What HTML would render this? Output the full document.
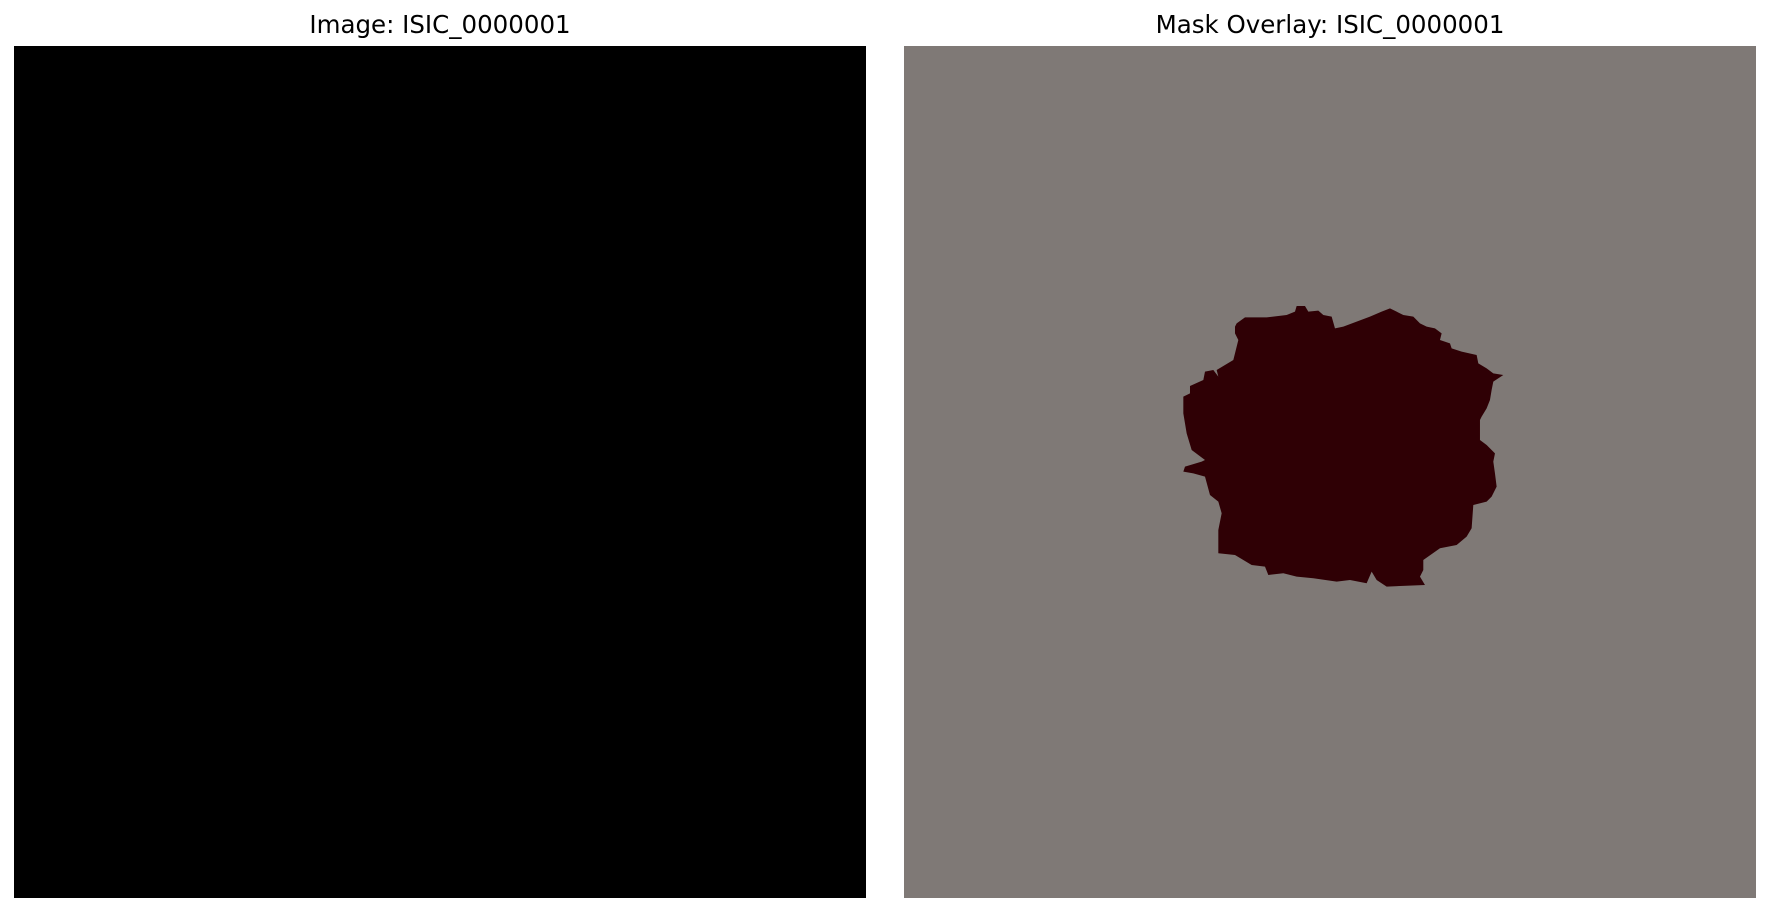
<!DOCTYPE html>
<html>
<head>
<meta charset="utf-8">
<style>
  html,body{margin:0;padding:0;background:#fff;}
  body{width:1769px;height:912px;position:relative;overflow:hidden;}
  svg{position:absolute;left:0;top:0;}
  text{font-family:"DejaVu Sans","Liberation Sans",sans-serif;font-size:24.5px;fill:#000;}
</style>
</head>
<body>
<svg width="1769" height="912" viewBox="0 0 1769 912">
  <text x="440" y="33" text-anchor="middle">Image: ISIC_0000001</text>
  <rect x="14" y="46" width="852" height="852" fill="#000000"/>
  <text x="1330" y="33" text-anchor="middle">Mask Overlay: ISIC_0000001</text>
  <rect x="904" y="46" width="852" height="852" fill="#7f7976"/>
  <g transform="translate(1150,280) scale(0.3333)">
    <polygon fill="#2f0005" points="255,140 260,130 285,112 350,112 410,105 435,95 440,78 465,78 475,95 505,92 520,105 545,110 555,145 580,140 620,125 660,110 695,95 720,85 740,95 760,105 790,110 810,130 830,140 855,145 875,160 870,180 900,190 905,205 935,215 980,225 985,250 1010,265 1030,280 1060,285 1030,305 1025,330 1020,360 1010,385 995,410 990,420 990,480 1010,495 1035,520 1030,545 1035,580 1040,620 1025,650 1010,665 970,675 965,745 950,770 920,795 870,805 820,840 820,870 810,890 825,915 710,920 680,900 665,875 650,910 600,900 560,905 490,895 440,890 400,880 355,885 345,860 305,855 255,825 205,820 205,750 215,700 205,665 180,645 165,590 130,580 100,575 105,560 155,545 165,540 125,510 110,460 100,400 100,350 120,340 120,318 160,300 165,275 190,270 205,290 200,270 250,240 255,220 265,180 255,160"/>
  </g>
</svg>
</body>
</html>
